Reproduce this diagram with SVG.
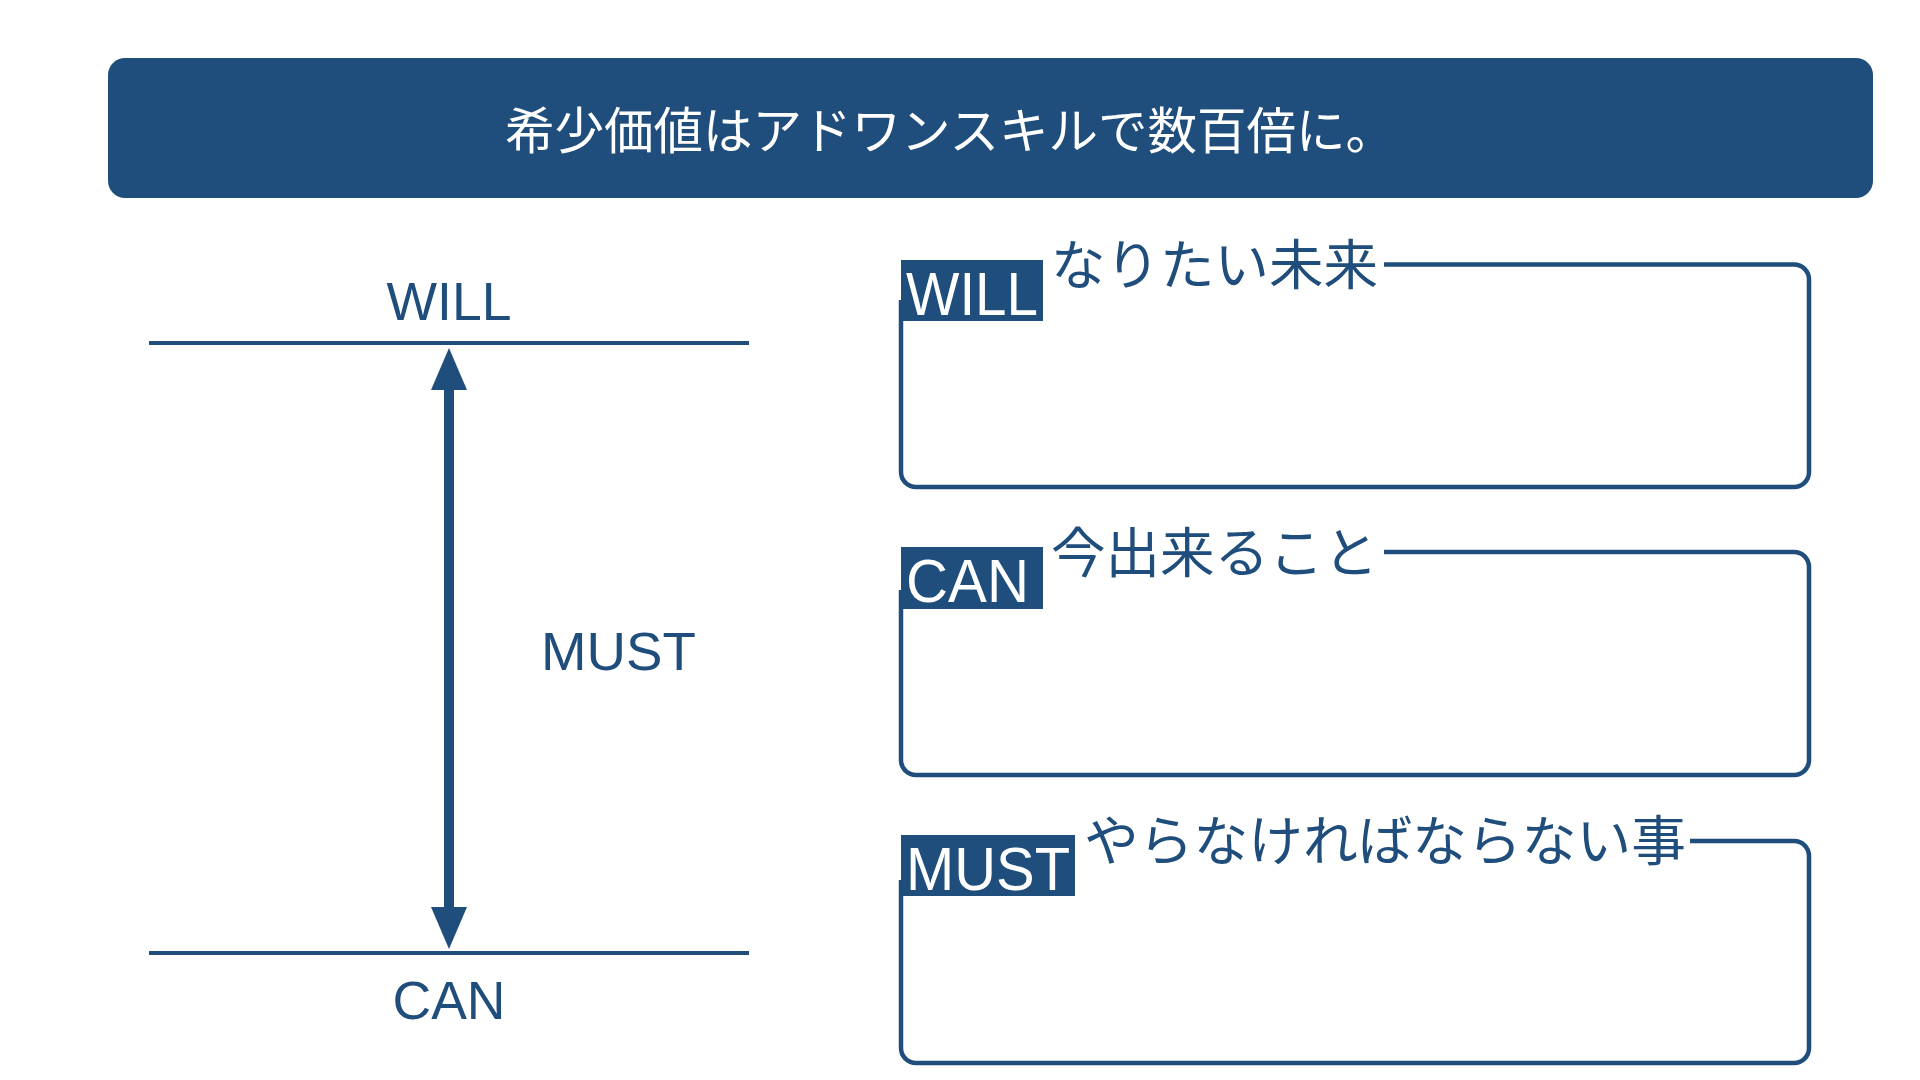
<svg xmlns="http://www.w3.org/2000/svg" width="1920" height="1080" viewBox="0 0 1920 1080">
<style>
.bg{fill:#ffffff}
.dark{fill:#204e7c}
.ln{stroke:#204e7c;stroke-width:4;fill:none}
.bx{stroke:#204e7c;stroke-width:4.5;fill:none}
.lat{font-family:"Liberation Sans","Noto Sans",sans-serif;fill:#204e7c}
.latw{font-family:"Liberation Sans","Noto Sans",sans-serif;fill:#ffffff}
.jp{font-family:"Noto Sans CJK JP","Noto Sans",sans-serif;fill:#204e7c}
.jpw{font-family:"Noto Sans CJK JP","Noto Sans",sans-serif;fill:#ffffff}
</style>
<rect class="bg" x="0" y="0" width="1920" height="1080"/>
<g id="header">
<rect class="dark" x="108" y="58" width="1765" height="140" rx="17"/>
<text class="jpw" x="950" y="149" font-size="49.5" text-anchor="middle">希少価値はアドワンスキルで数百倍に。</text>
</g>
<g id="scale">
<line class="ln" x1="149" y1="343" x2="749" y2="343"/>
<line class="ln" x1="149" y1="953" x2="749" y2="953"/>
<text class="lat" x="449" y="320" font-size="54" text-anchor="middle" textLength="125" lengthAdjust="spacingAndGlyphs">WILL</text>
<text class="lat" x="449" y="1019" font-size="54" text-anchor="middle" textLength="113" lengthAdjust="spacingAndGlyphs">CAN</text>
<text class="lat" x="541" y="670" font-size="54" textLength="155" lengthAdjust="spacingAndGlyphs">MUST</text>
</g>
<g id="connectors">
<line x1="449" y1="385" x2="449" y2="911" stroke="#204e7c" stroke-width="10"/>
<polygon class="dark" points="449,348 467,390 431,390"/>
<polygon class="dark" points="449,949 467,907 431,907"/>
</g>
<g id="will-box">
<path class="bx" d="M1384 264.5 H1794 A15 15 0 0 1 1809 279.5 V472 A15 15 0 0 1 1794 487 H916 A15 15 0 0 1 901 472 V300"/>
<rect class="dark" x="901" y="260" width="142" height="61"/>
<text class="latw" x="906" y="315" font-size="62" textLength="132" lengthAdjust="spacingAndGlyphs">WILL</text>
<text class="jp" x="1051" y="285" font-size="54" textLength="327" lengthAdjust="spacingAndGlyphs">なりたい未来</text>
</g>
<g id="can-box">
<path class="bx" d="M1384 552 H1794 A15 15 0 0 1 1809 567 V760 A15 15 0 0 1 1794 775 H916 A15 15 0 0 1 901 760 V590"/>
<rect class="dark" x="901" y="547" width="142" height="62"/>
<text class="latw" x="906" y="602" font-size="62" textLength="123" lengthAdjust="spacingAndGlyphs">CAN</text>
<text class="jp" x="1051" y="573" font-size="54" textLength="327" lengthAdjust="spacingAndGlyphs">今出来ること</text>
</g>
<g id="must-box">
<path class="bx" d="M1690 841 H1794 A15 15 0 0 1 1809 856 V1048 A15 15 0 0 1 1794 1063 H916 A15 15 0 0 1 901 1048 V880"/>
<rect class="dark" x="901" y="835" width="174" height="61"/>
<text class="latw" x="906" y="890" font-size="62" textLength="164" lengthAdjust="spacingAndGlyphs">MUST</text>
<text class="jp" x="1084" y="861" font-size="54" textLength="602" lengthAdjust="spacingAndGlyphs">やらなければならない事</text>
</g>
</svg>
